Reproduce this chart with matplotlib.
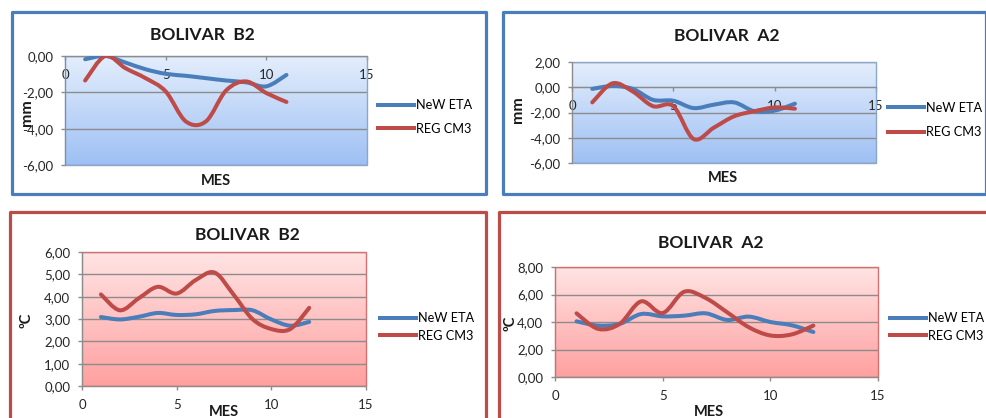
import numpy as np
import matplotlib
matplotlib.use("Agg")
import matplotlib.pyplot as plt
from matplotlib.path import Path
from matplotlib.patches import PathPatch, Rectangle
from matplotlib.lines import Line2D
from matplotlib.colors import LinearSegmentedColormap
from matplotlib.ticker import FuncFormatter, MultipleLocator

plt.rcParams['font.family'] = ['Lato', 'DejaVu Sans']

# ---------------- data ----------------
months_tl = [1, 2, 3, 4, 5, 6, 7, 8, 9, 10, 11]
tl_eta = [-0.18, 0.0, -0.36, -0.73, -0.98, -1.09, -1.22, -1.35, -1.45, -1.67, -1.04]
tl_reg = [-1.35, 0.0, -0.67, -1.22, -1.95, -3.6, -3.6, -1.9, -1.4, -2.04, -2.53]

months_tr = [1, 2, 3, 4, 5, 6, 7, 8, 9, 10, 11]
tr_eta = [-0.13, 0.1, -0.13, -1.0, -1.07, -1.65, -1.38, -1.2, -1.9, -1.85, -1.3]
tr_reg = [-1.2, 0.31, -0.34, -1.5, -1.5, -4.1, -3.2, -2.3, -1.9, -1.6, -1.7]

months_bl = [1, 2, 3, 4, 5, 6, 7, 8, 9, 10, 11, 12]
bl_eta = [3.09, 2.98, 3.1, 3.27, 3.18, 3.21, 3.36, 3.4, 3.39, 2.98, 2.7, 2.87]
bl_reg = [4.1, 3.39, 3.93, 4.44, 4.14, 4.74, 5.08, 4.1, 3.0, 2.55, 2.55, 3.5]

months_br = [1, 2, 3, 4, 5, 6, 7, 8, 9, 10, 11, 12]
br_eta = [4.05, 3.74, 3.86, 4.58, 4.41, 4.46, 4.63, 4.15, 4.39, 4.0, 3.76, 3.27]
br_reg = [4.63, 3.5, 3.86, 5.5, 4.65, 6.2, 5.74, 4.7, 3.62, 3.02, 3.1, 3.74]

series_names = ['NeW ETA', 'REG CM3']
titles = ['BOLIVAR  B2', 'BOLIVAR  A2', 'BOLIVAR  B2', 'BOLIVAR  A2']
xlabel = 'MES'
ylabels = ['mm', 'mm', 'ºC', 'ºC']

# ---------------- style ----------------
W, H = 987, 418
BLUE = '#4A7EBB'
RED = '#BE4B48'
LW = 2.9

fig = plt.figure(figsize=(W / 100, H / 100), dpi=100)
fig.patch.set_facecolor('white')


def rect(l, t, r, b):
    return [l / W, 1 - b / H, (r - l) / W, (b - t) / H]


def fx(x):
    return x / W


def fy(y):
    return 1 - y / H


def smooth_path(x, y):
    n = len(x)
    verts = [(x[0], y[0])]
    codes = [Path.MOVETO]
    for i in range(n - 1):
        a = i - 1 if i > 0 else i
        d = i + 2 if i + 2 < n else i + 1
        c1 = (x[i] + (x[i + 1] - x[a]) / 6.0, y[i] + (y[i + 1] - y[a]) / 6.0)
        c2 = (x[i + 1] - (x[d] - x[i]) / 6.0, y[i + 1] - (y[d] - y[i]) / 6.0)
        verts += [c1, c2, (x[i + 1], y[i + 1])]
        codes += [Path.CURVE4] * 3
    return Path(verts, codes)


fmt = FuncFormatter(lambda v, p: ('%.2f' % (0.0 if abs(v) < 1e-9 else v)).replace('.', ','))

blue_cmap = LinearSegmentedColormap.from_list('b', ['#E4EEFC', '#9EC0F4'])
red_cmap = LinearSegmentedColormap.from_list('r', ['#FFE4E4', '#FFA0A0'])

panels = [
    dict(border=(12.5, 11.5, 486.5, 193.5), bcol=BLUE, area=(65, 56, 367, 165),
         ylim=(-6, 0), ystep=2, x=months_tl, eta=tl_eta, reg=tl_reg, cmap=blue_cmap,
         frame='#8AA6CC', axis0=True, title=(202, 35), mes=(216, 181), ylab=(27, 113),
         leg=(378, 117, 0.95), ylsize=11.5),
    dict(border=(503.5, 11.5, 986, 193.5), bcol=BLUE, area=(572, 62, 876, 163),
         ylim=(-6, 2), ystep=2, x=months_tr, eta=tr_eta, reg=tr_reg, cmap=blue_cmap,
         frame='#8AA6CC', axis0=True, title=(727, 36), mes=(723, 178), ylab=(518, 110),
         leg=(888, 120, 1.1), ylsize=11.5),
    dict(border=(9.5, 211.5, 486.5, 432), bcol=RED, area=(82, 252, 366, 386),
         ylim=(0, 6), ystep=1, x=months_bl, eta=bl_eta, reg=bl_reg, cmap=red_cmap,
         frame='#D47070', axis0=False, title=(247, 235), mes=(224, 412), ylab=(27, 320),
         leg=(380, 327, 0.45), ylsize=10.5),
    dict(border=(499.5, 211.5, 996, 432), bcol=RED, area=(555, 267, 878, 377),
         ylim=(0, 8), ystep=2, x=months_br, eta=br_eta, reg=br_reg, cmap=red_cmap,
         frame='#D47070', axis0=False, title=(711, 243), mes=(709, 412), ylab=(511, 323),
         leg=(890, 327, 0.45), ylsize=10.5),
]

for i, p in enumerate(panels):
    # panel border
    l, t, r, b = p['border']
    fig.add_artist(Rectangle((fx(l), fy(b)), (r - l) / W, (b - t) / H,
                             transform=fig.transFigure, fill=False,
                             edgecolor=p['bcol'], lw=2.3, joinstyle='round', zorder=5))

    ax = fig.add_axes(rect(*p['area']))
    ax.imshow(np.linspace(0, 1, 256).reshape(-1, 1), cmap=p['cmap'], aspect='auto',
              extent=(0, 1, 0, 1), transform=ax.transAxes, zorder=-1,
              interpolation='bicubic', origin='upper')
    ax.set_xlim(0, 15)
    ax.set_ylim(*p['ylim'])
    ax.set_axisbelow(True)
    ax.yaxis.grid(True, color='#8C8C8C', lw=1.0)
    ax.xaxis.set_major_locator(MultipleLocator(5))
    ax.yaxis.set_major_locator(MultipleLocator(p['ystep']))
    ax.yaxis.set_major_formatter(fmt)

    for s in ['top', 'right']:
        ax.spines[s].set_visible(False)
    ax.spines['left'].set_color('#8C8C8C')
    ax.spines['bottom'].set_color('#8C8C8C')
    if p['axis0']:
        ax.spines['bottom'].set_position(('data', 0))
    # plot area frame
    ax.add_patch(Rectangle((0, 0), 1, 1, transform=ax.transAxes, fill=False,
                           edgecolor=p['frame'], lw=1.0, zorder=0.6, clip_on=False))

    ax.tick_params(axis='both', direction='out', length=3, width=1, color='#8C8C8C',
                   labelsize=9.5, labelcolor='#262626')
    ax.tick_params(axis='y', pad=5.5)
    ax.tick_params(axis='x', pad=6.5)

    ax.add_patch(PathPatch(smooth_path(p['x'], p['eta']), facecolor='none', edgecolor=BLUE,
                           lw=LW, capstyle='round', joinstyle='round', zorder=3))
    ax.add_patch(PathPatch(smooth_path(p['x'], p['reg']), facecolor='none', edgecolor=RED,
                           lw=LW, capstyle='round', joinstyle='round', zorder=3))

    handles = [Line2D([], [], color=BLUE, lw=LW), Line2D([], [], color=RED, lw=LW)]
    lx, ly, lsp = p['leg']
    ax.legend(handles, series_names, loc='center left', bbox_to_anchor=(fx(lx), fy(ly)),
              bbox_transform=fig.transFigure, frameon=False, fontsize=9.2,
              borderpad=0, borderaxespad=0, handlelength=2.8, handletextpad=0.2,
              labelspacing=lsp * 0.92)

    tx, ty = p['title']
    fig.text(fx(tx), fy(ty), titles[i], ha='center', va='center', fontsize=12.5,
             fontweight='bold', color='#1a1a1a')
    mx, my = p['mes']
    fig.text(fx(mx), fy(my), xlabel, ha='center', va='center', fontsize=10.5,
             fontweight='bold', color='#1a1a1a')
    yx, yy = p['ylab']
    fig.text(fx(yx), fy(yy), ylabels[i], ha='center', va='center', fontsize=p['ylsize'],
             fontweight='bold', rotation=90, color='#1a1a1a')

fig.savefig('out.png', dpi=100)
